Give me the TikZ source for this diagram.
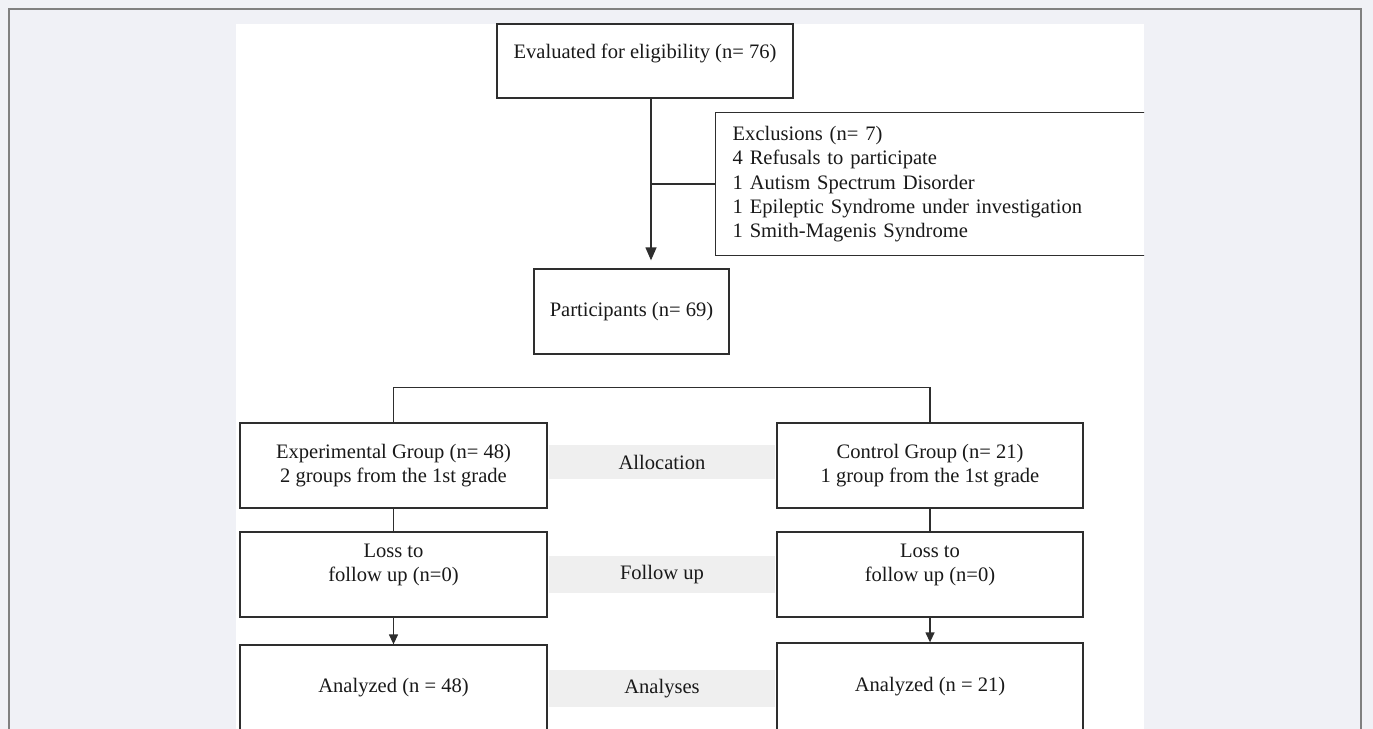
\documentclass[tikz,border=0pt]{standalone}
\usepackage{fontspec}
\setmainfont{Liberation Serif}
\usetikzlibrary{arrows.meta, positioning}
\definecolor{seite}{HTML}{F0F1F6}
\definecolor{rand}{HTML}{808080}
\definecolor{band}{HTML}{EFEFEF}
\definecolor{strich}{HTML}{2E2E2E}

\begin{document}
\begin{tikzpicture}[
        x=0.02cm, y=-0.02cm,
        font=\fontsize{11.7}{13.9}\selectfont,
        box/.style={draw=strich, line width=0.75pt, inner ysep=0pt,
                    align=center, text=black!90},
        phase/.style={fill=band, minimum width=4.52cm, minimum height=0.74cm,
                      inner sep=0pt, text=black!90},
        con/.style={draw=strich, line width=0.75pt},
        arr/.style={con, -{Triangle[length=0.26cm, width=0.22cm]}},
        arrklein/.style={con, -{Triangle[length=0.2cm, width=0.18cm]}}
      ]
      \useasboundingbox (0,0) rectangle (1373,729);
      \fill[seite] (0,0) rectangle (1373,729);
      \draw[rand, line width=0.6pt] (9,729) -- (9,9) -- (1361,9) -- (1361,729);
      \fill[white] (236,24) rectangle (1144,729);
      \begin{scope}
        \clip (236,23) rectangle (1144,729);
        % screening
        \node[box, minimum width=5.92cm, text height=0.7cm, text depth=0.78cm]
          (eval) at (645,61) {Evaluated for eligibility (n= 76)};
        \node[box, anchor=north west, minimum height=2.86cm, text width=9cm,
              inner xsep=0.34cm, align=left]
          (excl) at (715,112) {Exclusions (n= 7)\\
                               4 Refusals to participate\\
                               1 Autism Spectrum Disorder\\
                               1 Epileptic Syndrome under investigation\\
                               1 Smith-Magenis Syndrome};
        \node[box, minimum width=3.9cm, minimum height=1.7cm]
          (part) at (631.5,311.5) {Participants (n= 69)};
        % two arms
        \node[box, minimum width=6.14cm, minimum height=1.7cm]
          (exp) at (393.5,465.5) {Experimental Group (n= 48)\\ 2 groups from the 1st grade};
        \node[box, minimum width=6.12cm, minimum height=1.7cm]
          (ctrl) at (930,465.5) {Control Group (n= 21)\\ 1 group from the 1st grade};
        \node[box, minimum width=6.14cm, text height=1.0cm, text depth=0.7cm]
          (loss1) at (393.5,574.5) {Loss to\\ follow up (n=0)};
        \node[box, minimum width=6.12cm, text height=1.0cm, text depth=0.7cm]
          (loss2) at (930,574.5) {Loss to\\ follow up (n=0)};
        \node[box, minimum width=6.14cm, minimum height=1.72cm]
          (an1) at (393.5,688) {Analyzed (n = 48)};
        \node[box, minimum width=6.12cm, minimum height=1.76cm]
          (an2) at (930,687) {Analyzed (n = 21)};
        % phase labels
        \node[phase, minimum height=0.68cm] (alloc) at (662,462) {Allocation};
        \node[phase] (follow) at (662,574.5) {Follow up};
        \node[phase] (analy) at (662,688.5) {Analyses};
        % connectors
        \coordinate (stem) at ([xshift=0.12cm]eval.south);
        \draw[arr, shorten >=0.16cm] (stem) -- (stem |- part.north);
        \draw[con] (excl.west) -- (excl.west -| stem);
        \draw[con] (exp.north) -- ++(0,-35) -| (ctrl.north);
        \draw[con] (exp.south) -- (loss1.north);
        \draw[con] (ctrl.south) -- (loss2.north);
        \draw[arrklein] (loss1.south) -- (an1.north);
        \draw[arrklein] (loss2.south) -- (an2.north);
      \end{scope}
\end{tikzpicture}
\end{document}
